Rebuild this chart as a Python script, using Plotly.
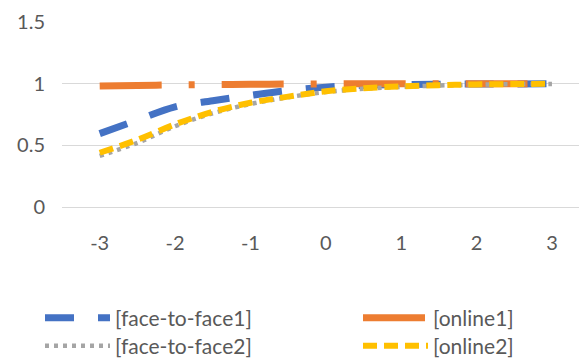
import plotly.graph_objects as go

x_vals = [-3, -2.5, -2, -1.5, -1, -0.5, 0, 0.5, 1, 1.5, 2, 2.5, 3]
face_to_face1 = [0.595, 0.705, 0.812, 0.862, 0.905, 0.945, 0.972, 0.986, 0.992, 0.995, 0.997, 0.998, 0.999]
online1 = [0.982, 0.986, 0.99, 0.993, 0.995, 0.997, 0.998, 0.999, 0.999, 1.0, 1.0, 1.0, 1.0]
face_to_face2 = [0.415, 0.52, 0.655, 0.76, 0.835, 0.89, 0.932, 0.958, 0.974, 0.985, 0.992, 0.996, 0.998]
online2 = [0.44, 0.545, 0.67, 0.772, 0.845, 0.895, 0.938, 0.963, 0.978, 0.988, 0.994, 0.997, 0.999]

names = ["[face-to-face1]", "[online1]", "[face-to-face2]", "[online2]"]
series = [face_to_face1, online1, face_to_face2, online2]
colors = ["#4472C4", "#ED7D31", "#A5A5A5", "#FFC000"]
widths = [7, 7, 4.5, 6]
dashes = ["29px,24px", "62px,27px,6px,27px", "4px,5px", "14px,7px"]
legends = ["legend", "legend2", "legend3", "legend4"]

W, H = 579, 350

fig = go.Figure()
for n, s, c, w, d, lg in zip(names, series, colors, widths, dashes, legends):
    fig.add_trace(go.Scatter(
        x=x_vals, y=s, name=n, mode="lines",
        line=dict(color=c, width=w, dash=d, shape="spline"),
        legend=lg,
    ))

tick_font = dict(family="Lato, Carlito, sans-serif", size=20, color="#595959")
leg_font = dict(family="Lato, Carlito, sans-serif", size=21, color="#595959")
leg_common = dict(xref="container", yref="container", xanchor="left", yanchor="middle",
                  bgcolor="rgba(0,0,0,0)", font=leg_font, itemwidth=65)
pos = [(32, 310), (350, 310), (32, 338), (350, 338)]
layout_legs = {}
for lg, (px, py) in zip(legends, pos):
    layout_legs[lg] = dict(leg_common, x=px / W, y=1 - py / H)

fig.update_layout(
    width=W, height=H,
    margin=dict(l=54, r=0, t=14, b=151, autoexpand=False),
    paper_bgcolor="white", plot_bgcolor="white",
    font=tick_font,
    showlegend=True,
    xaxis=dict(range=[-3.5, 3.465], tickvals=[-3, -2, -1, 0, 1, 2, 3],
               ticktext=["-3", "-2", "-1", "0", "1", "2", "3"],
               showgrid=False, zeroline=False, showline=False,
               ticks="", ticklabelstandoff=22, tickfont=tick_font, tickangle=0),
    yaxis=dict(range=[0, 1.5], tickvals=[0, 0.5, 1, 1.5],
               ticktext=["0", "0.5", "1", "1.5"],
               showgrid=True, gridcolor="#D9D9D9", gridwidth=1,
               zeroline=True, zerolinecolor="#D9D9D9", zerolinewidth=1,
               showline=False, ticks="", ticklabelstandoff=16, tickfont=tick_font),
    **layout_legs,
)

fig.write_html("out.html")
